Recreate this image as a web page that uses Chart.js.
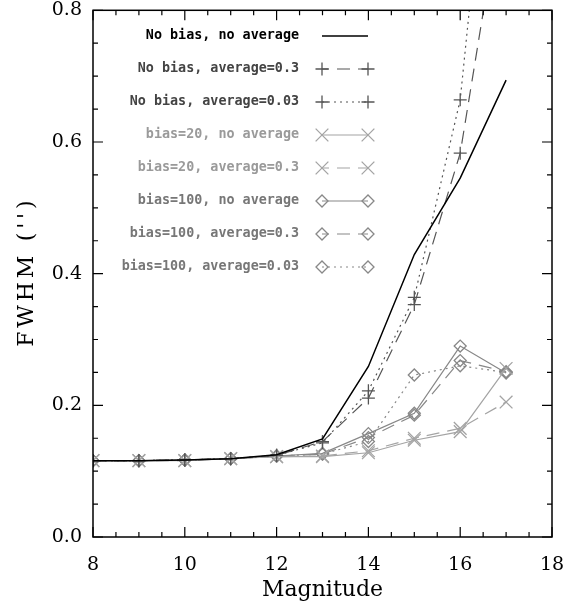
<!DOCTYPE html>
<html>
<head>
<meta charset="utf-8">
<script src="https://cdn.jsdelivr.net/npm/chart.js@4"></script>
<style>
  body { margin: 0; background: #fff; }
  canvas { display: block; }
</style>
</head>
<body>
<canvas id="c" width="568" height="606"></canvas>
<script>
// magnitudes on the x axis
const magnitudes = [8, 9, 10, 11, 12, 13, 14, 15, 16, 17];

// FWHM (arcsec) per series
const noBiasNoAvg    = [0.116, 0.116, 0.117, 0.119, 0.125, 0.149, 0.259, 0.429, 0.545, 0.694];
const noBiasAvg03    = [0.116, 0.116, 0.117, 0.119, 0.124, 0.145, 0.211, 0.353, 0.583, 1.010];
const noBiasAvg003   = [0.116, 0.116, 0.117, 0.119, 0.124, 0.143, 0.222, 0.364, 0.664, 1.350];
const bias20NoAvg    = [0.116, 0.116, 0.116, 0.119, 0.122, 0.122, 0.128, 0.147, 0.160, 0.256];
const bias20Avg03    = [0.116, 0.116, 0.116, 0.119, 0.122, 0.123, 0.131, 0.150, 0.165, 0.205];
const bias100NoAvg   = [0.116, 0.116, 0.117, 0.119, 0.123, 0.127, 0.157, 0.188, 0.290, 0.249];
const bias100Avg03   = [0.116, 0.116, 0.117, 0.119, 0.123, 0.126, 0.151, 0.185, 0.268, 0.251];
const bias100Avg003  = [0.116, 0.116, 0.117, 0.119, 0.123, 0.126, 0.145, 0.246, 0.260, 0.250];

const xTicks = [8, 10, 12, 14, 16, 18];
const yTicks = [0.0, 0.2, 0.4, 0.6, 0.8];

const DARK = '#555', MID = '#888', LIGHT = '#a4a4a4';
const DASH = [13, 8], DOT = [2, 4];

const SERIES = [
  { label: 'No bias, no average',    data: noBiasNoAvg,   color: '#000', text: '#000', dash: [],   pt: false,     w: 1.5 },
  { label: 'No bias, average=0.3',   data: noBiasAvg03,   color: DARK,   text: '#444', dash: DASH, pt: 'cross' },
  { label: 'No bias, average=0.03',  data: noBiasAvg003,  color: DARK,   text: '#444', dash: DOT,  pt: 'cross' },
  { label: 'bias=20, no average',    data: bias20NoAvg,   color: LIGHT,  text: '#9a9a9a', dash: [],   pt: 'crossRot' },
  { label: 'bias=20, average=0.3',   data: bias20Avg03,   color: LIGHT,  text: '#9a9a9a', dash: DASH, pt: 'crossRot' },
  { label: 'bias=100, no average',   data: bias100NoAvg,  color: MID,    text: '#777', dash: [],   pt: 'rectRot' },
  { label: 'bias=100, average=0.3',  data: bias100Avg03,  color: MID,    text: '#777', dash: DASH, pt: 'rectRot' },
  { label: 'bias=100, average=0.03', data: bias100Avg003, color: MID,    text: '#777', dash: DOT,  pt: 'rectRot' },
];

const ptRadius = (s) => ({ rectRot: 6, cross: 6.5, crossRot: 9 })[s];

const datasets = SERIES.map(s => ({
  label: s.label,
  data: magnitudes.map((m, i) => ({ x: m, y: s.data[i] })),
  borderColor: s.color,
  borderWidth: s.w || 1.2,
  borderDash: s.dash,
  pointStyle: s.pt || 'circle',
  pointRadius: s.pt ? ptRadius(s.pt) : 0,
  pointBorderColor: s.color,
  pointBackgroundColor: 'rgba(0,0,0,0)',
  pointBorderWidth: 1.3,
  tension: 0,
}));

// IDL style frame: ticks inside on all four sides, y title, legend drawn in the plot
const frame = {
  id: 'frame',
  afterDraw(chart) {
    const { ctx, chartArea: a, scales: { x, y } } = chart;
    ctx.save();
    ctx.strokeStyle = '#000';
    ctx.lineWidth = 1.5;
    ctx.strokeRect(a.left, a.top, a.right - a.left, a.bottom - a.top);
    ctx.lineWidth = 1.2;
    ctx.beginPath();
    for (let v = 8; v <= 18.001; v += 0.5) {
      const px = x.getPixelForValue(v);
      const len = Math.abs(v / 2 - Math.round(v / 2)) < 1e-6 ? 10 : 5;
      ctx.moveTo(px, a.bottom); ctx.lineTo(px, a.bottom - len);
      ctx.moveTo(px, a.top);    ctx.lineTo(px, a.top + len);
    }
    for (let i = 0; i <= 16; i++) {
      const py = y.getPixelForValue(i * 0.05);
      const len = i % 4 === 0 ? 10 : 5;
      ctx.moveTo(a.left, py);  ctx.lineTo(a.left + len, py);
      ctx.moveTo(a.right, py); ctx.lineTo(a.right - len, py);
    }
    ctx.stroke();

    // y axis title, spaced out char by char like the IDL font
    const title = "FWHM ('')", gap = 3.8;
    ctx.save();
    ctx.translate(27, (a.top + a.bottom) / 2);
    ctx.rotate(-Math.PI / 2);
    ctx.font = '22px "DejaVu Serif"';
    ctx.fillStyle = '#000';
    ctx.textAlign = 'left';
    ctx.textBaseline = 'middle';
    const chars = [...title];
    const total = chars.reduce((t, c) => t + ctx.measureText(c).width, 0) + gap * (chars.length - 1);
    let cx = -total / 2;
    chars.forEach(c => { ctx.fillText(c, cx, 0); cx += ctx.measureText(c).width + gap; });
    ctx.restore();

    // legend
    ctx.font = 'bold 13.4px "DejaVu Sans Mono"';
    ctx.textAlign = 'right';
    ctx.textBaseline = 'middle';
    SERIES.forEach((s, i) => {
      const ly = 36 + i * 33;
      ctx.fillStyle = s.text;
      ctx.fillText(s.label, 299, ly);
      ctx.strokeStyle = s.color;
      ctx.lineWidth = s.w || 1.2;
      ctx.setLineDash(s.dash);
      ctx.lineDashOffset = s.dash === DASH ? 6 : 0;
      ctx.beginPath();
      ctx.moveTo(322, ly); ctx.lineTo(368, ly);
      ctx.stroke();
      ctx.setLineDash([]);
      if (s.pt) {
        const o = { pointStyle: s.pt, radius: ptRadius(s.pt), borderWidth: 1.3, rotation: 0 };
        ctx.fillStyle = 'rgba(0,0,0,0)';
        ctx.strokeStyle = s.color;
        ctx.lineWidth = 1.3;
        Chart.helpers.drawPoint(ctx, o, 322, ly);
        Chart.helpers.drawPoint(ctx, o, 368, ly);
      }
    });
    ctx.restore();
  }
};

const tickFont = { family: '"DejaVu Serif"', size: 19 };

new Chart(document.getElementById('c'), {
  type: 'line',
  data: { datasets },
  options: {
    responsive: false,
    animation: false,
    devicePixelRatio: 1,
    layout: { padding: { top: 6, right: 16, left: 0, bottom: 0 } },
    plugins: { legend: { display: false }, tooltip: { enabled: false } },
    scales: {
      x: {
        type: 'linear', min: 8, max: 18,
        afterBuildTicks: (s) => { s.ticks = xTicks.map(v => ({ value: v })); },
        afterFit: (s) => { s.height = 69; s.paddingLeft = 0; s.paddingRight = 0; },
        ticks: { color: '#000', font: tickFont, padding: 17, maxRotation: 0, callback: v => String(v) },
        grid: { drawOnChartArea: false, drawTicks: false },
        border: { display: false },
        title: { display: true, text: 'Magnitude', color: '#000', font: { family: '"DejaVu Serif"', size: 22 }, padding: { top: 0, bottom: 3 } },
      },
      y: {
        min: 0, max: 0.8,
        afterBuildTicks: (s) => { s.ticks = yTicks.map(v => ({ value: v })); },
        afterFit: (s) => { s.width = 93; s.paddingTop = 0; s.paddingBottom = 0; },
        ticks: { color: '#000', font: tickFont, padding: 11, callback: v => v.toFixed(1) },
        grid: { drawOnChartArea: false, drawTicks: false },
        border: { display: false },
      },
    },
  },
  plugins: [frame],
});
</script>
</body>
</html>
